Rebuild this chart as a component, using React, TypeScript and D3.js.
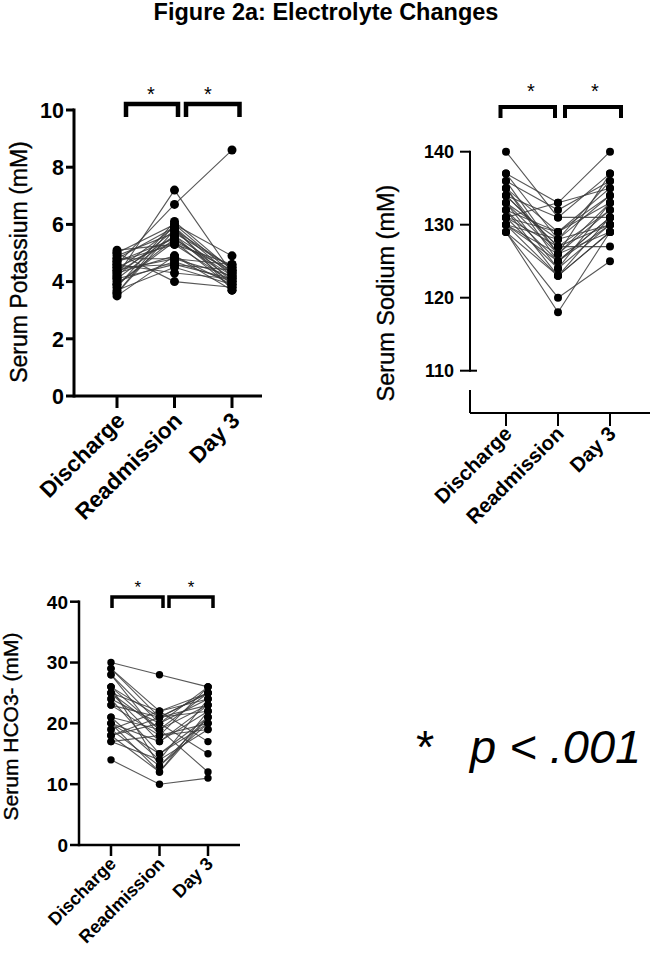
import React from "react";
import * as d3 from "d3";

// Time points shared by all three panels
const CATEGORIES = ["Discharge", "Readmission", "Day 3"];

// Serum potassium (mM), one entry per patient
const POTASSIUM_DISCHARGE = [4.2, 4.6, 3.8, 5.0, 4.4, 3.6, 4.9, 4.1, 4.7, 3.9, 5.1, 4.3, 3.5, 4.8, 4.0, 4.5, 3.7, 4.6, 5.0, 4.2, 3.6, 4.7, 4.4, 3.9, 4.8, 4.1, 4.3, 4.5];
const POTASSIUM_READMISSION = [7.2, 6.7, 6.1, 6.0, 5.9, 5.8, 5.7, 5.6, 5.5, 5.4, 5.3, 5.6, 4.9, 4.8, 4.7, 4.6, 4.5, 4.3, 4.0, 5.8, 6.0, 5.3, 4.8, 5.5, 5.9, 4.6, 4.9, 5.4];
const POTASSIUM_DAY3 = [4.3, 8.6, 4.4, 4.9, 4.2, 4.0, 4.5, 3.9, 4.1, 3.8, 4.6, 4.3, 3.7, 4.2, 4.0, 4.4, 3.9, 4.1, 3.8, 4.5, 4.3, 4.0, 4.6, 4.2, 3.7, 4.1, 3.9, 4.4];
const POTASSIUM_TICKS = [0, 2, 4, 6, 8, 10];

// Serum sodium (mM)
const SODIUM_DISCHARGE = [140, 137, 137, 136, 136, 135, 135, 134, 134, 133, 133, 133, 132, 132, 132, 131, 131, 131, 130, 130, 130, 129, 129, 130, 134, 129, 135, 131];
const SODIUM_READMISSION = [131, 133, 128, 132, 126, 129, 125, 131, 127, 124, 128, 126, 123, 129, 125, 127, 124, 133, 126, 123, 128, 120, 118, 125, 127, 123, 126, 129];
const SODIUM_DAY3 = [137, 140, 134, 136, 133, 135, 131, 131, 132, 130, 136, 129, 131, 134, 130, 127, 133, 135, 132, 129, 130, 125, 129, 131, 130, 129, 137, 133];
const SODIUM_TICKS = [110, 120, 130, 140];

// Serum bicarbonate (mM)
const HCO3_DISCHARGE = [30, 29, 28, 28, 26, 26, 25, 25, 24, 24, 23, 23, 21, 21, 20, 20, 19, 19, 18, 18, 17, 17, 14, 29, 25, 20, 18, 26];
const HCO3_READMISSION = [28, 22, 20, 18, 21, 19, 22, 17, 20, 15, 21, 18, 19, 14, 17, 12, 22, 13, 20, 12, 18, 14, 10, 21, 19, 15, 21, 13];
const HCO3_DAY3 = [26, 25, 24, 26, 25, 23, 24, 22, 26, 21, 22, 20, 25, 19, 23, 21, 17, 20, 15, 22, 19, 24, 11, 25, 12, 20, 23, 21];
const HCO3_TICKS = [0, 10, 20, 30, 40];

const FONT = "'Liberation Sans', Arial, Helvetica, sans-serif";

type PanelProps = {
  label: string;
  values: number[][];
  ticks: number[];
  xRange: [number, number];
  yDomain: [number, number];
  yRange: [number, number];
  axisX: number;
  baseY: number;
  xEnd: number;
  axisBreak?: { top: number };
  axisWidth: number;
  tickLen: number;
  bottomTickLen: number;
  tickFont: number;
  tickLabelX: number;
  labelFont: number;
  labelPos: [number, number];
  catFont: number;
  catOffset: [number, number];
  dotR: number;
  bracketY: number;
  bracketLegY: number;
  bracketWidth: number;
  brackets: [number, number][];
  starFont: number;
  stars: [number, number][];
};

function Panel(p: PanelProps) {
  const x = d3.scalePoint<string>().domain(CATEGORIES).range(p.xRange);
  const y = d3.scaleLinear().domain(p.yDomain).range(p.yRange);
  const n = p.values[0].length;
  const patients = d3.range(n).map((i) => CATEGORIES.map((c, k) => ({ c, v: p.values[k][i] })));
  const line = d3
    .line<{ c: string; v: number }>()
    .x((d) => x(d.c) as number)
    .y((d) => y(d.v));
  const yTop = y(p.yDomain[1]);
  const yAxisBottom = p.axisBreak ? y(p.yDomain[0]) : p.baseY;

  return (
    <g>
      {/* y axis */}
      <line x1={p.axisX} x2={p.axisX} y1={yTop} y2={yAxisBottom} stroke="#000" strokeWidth={p.axisWidth} strokeLinecap="square" />
      {p.axisBreak && (
        <line x1={p.axisX} x2={p.axisX} y1={p.axisBreak.top} y2={p.baseY} stroke="#000" strokeWidth={p.axisWidth} />
      )}
      {/* x axis */}
      <line x1={p.axisX} x2={p.xEnd} y1={p.baseY} y2={p.baseY} stroke="#000" strokeWidth={p.axisWidth} />
      {p.ticks.map((t, i) => {
        const isBreakTick = p.axisBreak && i === 0;
        return (
          <g key={t}>
            <line
              x1={p.axisX - p.tickLen}
              x2={isBreakTick ? p.axisX + p.tickLen * 0.7 : p.axisX}
              y1={y(t)}
              y2={y(t)}
              stroke="#000"
              strokeWidth={p.axisWidth}
            />
            <text
              x={p.tickLabelX}
              y={y(t)}
              dy="0.36em"
              textAnchor="end"
              fontFamily={FONT}
              fontWeight="bold"
              fontSize={p.tickFont}
            >
              {t}
            </text>
          </g>
        );
      })}
      {CATEGORIES.map((c) => (
        <g key={c}>
          <line x1={x(c)} x2={x(c)} y1={p.baseY} y2={p.baseY + p.bottomTickLen} stroke="#000" strokeWidth={p.axisWidth} />
          <text
            transform={`translate(${(x(c) as number) + p.catOffset[0]},${p.baseY + p.bottomTickLen + p.catOffset[1]}) rotate(-45)`}
            textAnchor="end"
            fontFamily={FONT}
            fontWeight="bold"
            fontSize={p.catFont}
          >
            {c}
          </text>
        </g>
      ))}
      {/* y axis title */}
      <text
        transform={`translate(${p.labelPos[0]},${p.labelPos[1]}) rotate(-90)`}
        textAnchor="middle"
        fontFamily={FONT}
        fontSize={p.labelFont}
        stroke="#000"
        strokeWidth={0.35}
      >
        {p.label}
      </text>
      {/* paired lines, then points */}
      {patients.map((pt, i) => (
        <path key={i} d={line(pt) as string} fill="none" stroke="#3a3a3a" strokeWidth={1.1} strokeOpacity={0.85} />
      ))}
      {patients.map((pt, i) =>
        pt.map((d) => <circle key={`${i}-${d.c}`} cx={x(d.c)} cy={y(d.v)} r={p.dotR} fill="#000" />)
      )}
      {/* significance brackets */}
      {p.brackets.map(([a, b], i) => (
        <path
          key={i}
          d={`M${a},${p.bracketLegY}V${p.bracketY}H${b}V${p.bracketLegY}`}
          fill="none"
          stroke="#000"
          strokeWidth={p.bracketWidth}
        />
      ))}
      {p.stars.map(([sx, sy], i) => (
        <text key={i} x={sx} y={sy} textAnchor="middle" fontFamily={FONT} fontSize={p.starFont}>
          *
        </text>
      ))}
    </g>
  );
}

export default function App() {
  return (
    <svg width={650} height={954} viewBox="0 0 650 954" style={{ display: "block", position: "absolute", left: 0, top: 0, background: "#fff" }}>
      <rect width={650} height={954} fill="#fff" />
      <text x={326} y={20} textAnchor="middle" fontFamily={FONT} fontWeight="bold" fontSize={23.5}>
        Figure 2a: Electrolyte Changes
      </text>

      <Panel
        label="Serum Potassium (mM)"
        values={[POTASSIUM_DISCHARGE, POTASSIUM_READMISSION, POTASSIUM_DAY3]}
        ticks={POTASSIUM_TICKS}
        xRange={[117, 232]}
        yDomain={[0, 10]}
        yRange={[396, 110]}
        axisX={74}
        baseY={396}
        xEnd={262}
        axisWidth={3}
        tickLen={8}
        bottomTickLen={12}
        tickFont={21.5}
        tickLabelX={64}
        labelFont={23}
        labelPos={[27, 262]}
        catFont={22.5}
        catOffset={[9, 14]}
        dotR={4.5}
        bracketY={104}
        bracketLegY={117}
        bracketWidth={4.5}
        brackets={[[126, 178], [186, 239.5]]}
        starFont={20}
        stars={[[151, 101], [208, 101]]}
      />

      <Panel
        label="Serum Sodium (mM)"
        values={[SODIUM_DISCHARGE, SODIUM_READMISSION, SODIUM_DAY3]}
        ticks={SODIUM_TICKS}
        xRange={[506, 610]}
        yDomain={[110, 140]}
        yRange={[370.7, 151.7]}
        axisX={470}
        baseY={413}
        xEnd={650}
        axisBreak={{ top: 390 }}
        axisWidth={2}
        tickLen={10}
        bottomTickLen={13}
        tickFont={18}
        tickLabelX={454}
        labelFont={23.5}
        labelPos={[394, 293]}
        catFont={20.5}
        catOffset={[7, 9]}
        dotR={4}
        bracketY={107}
        bracketLegY={118}
        bracketWidth={4}
        brackets={[[500.5, 555], [565, 621]]}
        starFont={20}
        stars={[[531, 98], [595, 98]]}
      />

      <Panel
        label="Serum HCO3- (mM)"
        values={[HCO3_DISCHARGE, HCO3_READMISSION, HCO3_DAY3]}
        ticks={HCO3_TICKS}
        xRange={[111, 208]}
        yDomain={[0, 40]}
        yRange={[845, 601.7]}
        axisX={79}
        baseY={845}
        xEnd={240}
        axisWidth={2.5}
        tickLen={9}
        bottomTickLen={11}
        tickFont={19}
        tickLabelX={68}
        labelFont={21}
        labelPos={[18, 726.5]}
        catFont={18}
        catOffset={[6, 9]}
        dotR={3.7}
        bracketY={597}
        bracketLegY={608}
        bracketWidth={3.5}
        brackets={[[112, 163], [169, 213]]}
        starFont={17}
        stars={[[137.7, 593], [191, 593]]}
      />

      <text x={416} y={763} fontFamily={FONT} fontSize={47}>
        *
      </text>
      <text x={470} y={763} fontFamily={FONT} fontStyle="italic" fontSize={47}>
        p &lt; .001
      </text>
    </svg>
  );
}
